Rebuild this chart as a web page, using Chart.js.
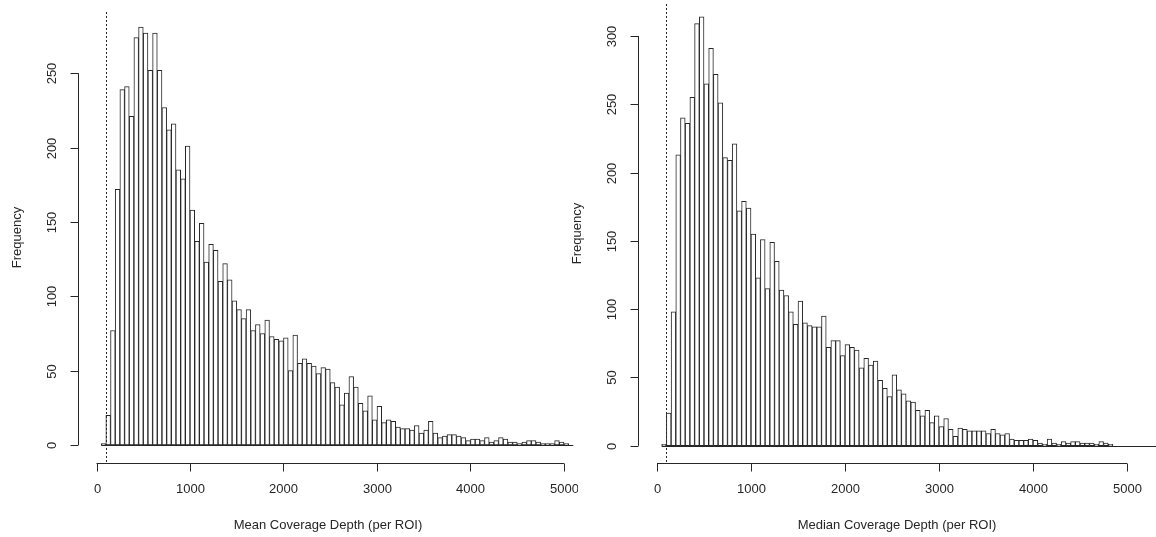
<!DOCTYPE html>
<html>
<head>
<meta charset="utf-8">
<title>Coverage depth histograms</title>
<script src="https://cdn.jsdelivr.net/npm/chart.js"></script>
<style>
  body { margin: 0; background: #fff; width: 1156px; height: 537px; overflow: hidden; position: relative; }
  .panel { position: absolute; top: 0; height: 537px; }
</style>
</head>
<body>
<div class="panel" style="left:0; width:578px;"><canvas id="meanChart"></canvas></div>
<div class="panel" style="left:560px; width:596px;"><canvas id="medianChart"></canvas></div>

<script>
// histogram bins: width 50, first break at 50
const binWidth = 50;
const binStart = 50;
const cutoff = 100;

// mean coverage depth, counts per bin (50-100, 100-150, ...)
const meanCounts = [
  1, 20, 77, 172, 239, 241, 221, 274, 281, 277,
  252, 277, 252, 227, 212, 216, 185, 179, 201, 158,
  137, 149, 123, 135, 131, 110, 122, 111, 97, 91,
  85, 91, 77, 81, 75, 84, 73, 71, 70, 72,
  50, 74, 55, 58, 55, 53, 48, 52, 51, 42,
  39, 27, 35, 46, 39, 28, 23, 33, 17, 26,
  15, 17, 16, 12, 11, 11, 10, 13, 8, 10,
  16, 8, 5, 6, 7, 7, 6, 5, 3, 4,
  4, 3, 5, 2, 3, 5, 4, 2, 2, 1,
  2, 3, 3, 2, 1, 1, 1, 3, 2, 1
];
const meanBreakMax = 5100;

// median coverage depth, counts per bin
const medianCounts = [
  1, 24, 98, 213, 240, 236, 255, 309, 314, 265,
  291, 272, 251, 211, 209, 221, 172, 179, 174, 155,
  123, 151, 115, 149, 135, 114, 110, 98, 89, 106,
  90, 88, 87, 87, 95, 72, 77, 77, 66, 74,
  72, 70, 57, 64, 59, 62, 48, 42, 36, 52,
  41, 38, 33, 32, 26, 22, 26, 17, 22, 14,
  20, 12, 7, 13, 12, 11, 11, 11, 11, 9,
  12, 9, 8, 9, 5, 4, 4, 4, 5, 4,
  2, 1, 5, 2, 1, 3, 2, 3, 3, 2,
  2, 2, 1, 3, 2, 1
];
const medianBreakMax = 5350;

const xTicks = [0, 1000, 2000, 3000, 4000, 5000];
const meanYTicks = [0, 50, 100, 150, 200, 250];
const medianYTicks = [0, 50, 100, 150, 200, 250, 300];

const INK = '#262626';
const FONT = '13px "Liberation Sans", Arial, sans-serif';

function toPoints(counts) {
  return counts.map((c, i) => ({ x: binStart + i * binWidth + binWidth / 2, y: c }));
}

// R-style axes, baseline and dashed cutoff line
const rAxes = {
  id: 'rAxes',
  afterDatasetsDraw(chart, args, o) {
    const { ctx, chartArea: a, scales: { x, y } } = chart;
    const seg = (x1, y1, x2, y2) => { ctx.beginPath(); ctx.moveTo(x1, y1); ctx.lineTo(x2, y2); ctx.stroke(); };
    ctx.save();
    ctx.strokeStyle = INK;
    ctx.fillStyle = INK;
    ctx.lineWidth = 1;
    ctx.font = FONT;

    // baseline across all bins
    const y0 = Math.round(y.getPixelForValue(0)) + 0.5;
    seg(x.getPixelForValue(binStart), y0, x.getPixelForValue(o.breakMax), y0);

    // cutoff line
    const xc = Math.round(x.getPixelForValue(cutoff)) + 0.5;
    ctx.setLineDash([2, 2]);
    seg(xc, a.top, xc, a.bottom);
    ctx.setLineDash([]);

    // x axis
    const ya = a.bottom + 0.5;
    seg(x.getPixelForValue(xTicks[0]), ya, x.getPixelForValue(xTicks[xTicks.length - 1]), ya);
    ctx.textAlign = 'center';
    ctx.textBaseline = 'middle';
    xTicks.forEach(t => {
      const px = Math.round(x.getPixelForValue(t)) + 0.5;
      seg(px, ya, px, ya + 8);
      ctx.fillText(String(t), px, ya + 26);
    });
    ctx.fillText(o.xTitle, (a.left + a.right) / 2, ya + 62);

    // y axis
    const xa = a.left + 0.5;
    const yt = o.yTicks;
    seg(xa, y.getPixelForValue(yt[0]), xa, y.getPixelForValue(yt[yt.length - 1]));
    yt.forEach(t => {
      const py = Math.round(y.getPixelForValue(t)) + 0.5;
      seg(xa - 8, py, xa, py);
      ctx.save();
      ctx.translate(xa - 26, py);
      ctx.rotate(-Math.PI / 2);
      ctx.fillText(String(t), 0, 0);
      ctx.restore();
    });
    ctx.save();
    ctx.translate(17, (a.top + a.bottom) / 2);
    ctx.rotate(-Math.PI / 2);
    ctx.fillText('Frequency', 0, 0);
    ctx.restore();

    ctx.restore();
  }
};

function makeHist(id, counts, xMin, xMax, yMin, yMax, pad, axesOpts) {
  return new Chart(document.getElementById(id), {
    type: 'bar',
    data: {
      datasets: [{
        data: toPoints(counts),
        backgroundColor: '#ffffff',
        borderColor: INK,
        borderWidth: 1,
        borderSkipped: false,
        barPercentage: 1,
        categoryPercentage: 1
      }]
    },
    options: {
      responsive: true,
      maintainAspectRatio: false,
      animation: false,
      layout: { padding: pad },
      plugins: { legend: { display: false }, tooltip: { enabled: false }, rAxes: axesOpts },
      scales: {
        x: { type: 'linear', min: xMin, max: xMax, offset: false, display: false },
        y: { min: yMin, max: yMax, display: false }
      }
    },
    plugins: [rAxes]
  });
}

makeHist('meanChart', meanCounts, -198, 5150, -12.1, 291.2,
  { left: 78, right: 0, top: 12, bottom: 74 },
  { breakMax: meanBreakMax, yTicks: meanYTicks, xTitle: 'Mean Coverage Depth (per ROI)' });

makeHist('medianChart', medianCounts, -202, 5308, -12.6, 323.4,
  { left: 78, right: 0, top: 4, bottom: 74 },
  { breakMax: medianBreakMax, yTicks: medianYTicks, xTitle: 'Median Coverage Depth (per ROI)' });
</script>
</body>
</html>
